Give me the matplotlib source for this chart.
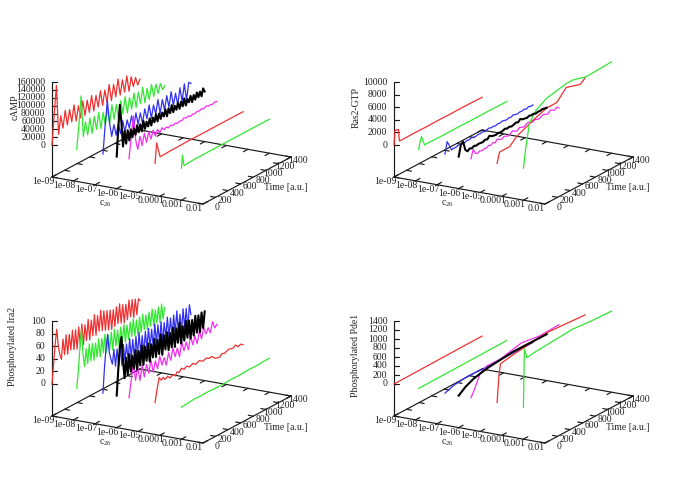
import matplotlib
matplotlib.use('Agg')
import matplotlib.pyplot as plt
import numpy as np

plt.rcParams['font.family'] = ['Liberation Serif', 'DejaVu Serif']
plt.rcParams['mathtext.default'] = 'regular'
plt.rcParams['mathtext.fontset'] = 'custom'
plt.rcParams['mathtext.rm'] = 'Liberation Serif'

# ---- axes values
c_values = [1e-9, 1.4e-8, 2.3e-7, 1e-6, 3.7e-6, 6e-5, 1e-3]
c_ticks = [1e-9, 1e-8, 1e-7, 1e-6, 1e-5, 1e-4, 1e-3, 1e-2]
c_labels = ['1e-09', '1e-08', '1e-07', '1e-06', '1e-05', '0.0001', '0.001', '0.01']
time_ticks = [0, 200, 400, 600, 800, 1000, 1200, 1400]
camp_ticks = [0, 20000, 40000, 60000, 80000, 100000, 120000, 140000, 160000]
ras_ticks = [0, 2000, 4000, 6000, 8000, 10000]
ira_ticks = [0, 20, 40, 60, 80, 100]
pde_ticks = [0, 200, 400, 600, 800, 1000, 1200, 1400]

# ---- cAMP
camp_1 = [0, 75000, 145000, 18000, 62000, 28000, 70000, 30000, 66000, 32000,
          72000, 28000, 64000, 30000, 70000, 30000, 66000, 32000, 72000, 30000,
          66000, 34000, 72000, 32000, 68000, 34000, 76000, 32000, 70000, 36000,
          78000, 34000, 70000, 36000, 74000, 32000, 66000, 38000, 58000, 36000, 48000]
camp_2 = [0, 60000, 130000, 24000, 58000, 22000, 62000, 20000, 60000, 24000,
          64000, 20000, 58000, 24000, 62000, 22000, 66000, 26000, 60000, 22000,
          64000, 28000, 68000, 24000, 60000, 28000, 66000, 26000, 62000, 30000,
          68000, 26000, 60000, 28000, 64000, 30000, 58000, 32000, 54000, 36000, 42000]
camp_3 = [0, 70000, 130000, 70000, 33000, 60000, 30000, 56000, 28000, 58000,
          26000, 54000, 30000, 58000, 26000, 60000, 28000, 54000, 24000, 58000,
          30000, 62000, 26000, 56000, 30000, 64000, 26000, 58000, 28000, 62000,
          30000, 66000, 28000, 56000, 24000, 64000, 26000, 68000, 24000, 66000, 60000]
camp_4 = [0, 70000, 127000, 80000, 17000, 54000, 20000, 52000, 24000, 50000,
          28000, 48000, 30000, 52000, 32000, 50000, 30000, 54000, 32000, 48000,
          34000, 52000, 32000, 50000, 36000, 54000, 34000, 52000, 36000, 50000,
          38000, 54000, 34000, 52000, 38000, 56000, 36000, 50000, 38000, 54000,
          36000, 52000, 38000, 56000, 36000, 50000, 40000, 54000, 36000, 52000,
          38000, 54000, 40000, 52000, 38000, 56000, 46000]
camp_5 = [0, 50000, 103000, 40000, 12000, 42000, 16000, 44000, 18000, 42000,
          20000, 40000, 22000, 36000, 24000, 34000, 26000, 30000, 25000, 29000,
          25000, 28000, 24000, 27000, 25000, 29000, 26000, 28000, 24000, 27000,
          25000, 28000, 26000, 29000, 25000, 30000, 26000, 27000, 25000, 28000, 26000]
camp_6_t = [0, 25, 80, 200, 500, 800, 1100, 1400]
camp_6 = [0, 50000, 10000, 11000, 12000, 12000, 12000, 12000]
camp_7_t = [0, 16, 40, 200, 600, 1000, 1400]
camp_7 = [0, 32000, 3000, 5000, 5000, 5000, 5000]

# ---- Ras2-GTP
ras_1_t = [0, 15, 35, 70, 85, 110, 300, 500, 700, 900, 1100, 1300, 1400]
ras_1 = [0, 2200, 2200, 2100, 200, 150, 180, 150, 170, 140, 160, 130, 120]
ras_2_t = [0, 20, 45, 70, 95, 130, 300, 500, 700, 900, 1100, 1300, 1400]
ras_2 = [0, 1000, 1800, 900, 200, 250, 200, 180, 200, 160, 180, 150, 150]
ras_3 = [0, 1800, 1000, 100, 200, 150, 300, 200, 250, 150,
         300, 200, 350, 250, 200, 300, 250, 350, 200, 300,
         400, 250, 300, 200, 350, 250, 400, 300, 200, 350,
         250, 450, 300, 250, 350, 300, 400, 250, 450, 300, 350]
ras_4 = [0, 1700, 2000, 500, 100, 350, 200, 400, 250, 350,
         300, 250, 450, 300, 700, 450, 350, 300, 400, 300,
         350, 500, 350, 450, 300, 400, 550, 400, 750, 500,
         450, 350, 500, 400, 450, 300, 400, 350, 450, 350, 300]
ras_5 = [0, 1300, 500, 300, 500, 350, 450, 400, 600, 450,
         700, 500, 900, 650, 500, 750, 600, 450, 700, 900,
         650, 500, 850, 700, 550, 800, 950, 700, 600, 800,
         650, 550, 750, 900, 700, 600, 1000, 800, 650, 900, 600]
ras_6_t = [0, 40, 200, 310, 570, 790, 950, 1100, 1320, 1400]
ras_6 = [0, 1600, 1600, 2600, 3800, 4600, 4600, 6200, 5500, 6100]
ras_7_t = [0, 40, 95, 200, 360, 680, 785, 997, 1400]
ras_7 = [0, 3200, 6600, 8100, 9100, 9800, 9800, 9200, 9400]

# ---- Phosphorylated Ira2
ira_1 = [0, 30, 60, 83, 55, 40, 31, 62, 36, 66,
         34, 64, 38, 68, 36, 66, 34, 68, 38, 70,
         36, 66, 40, 72, 38, 68, 42, 74, 40, 70,
         44, 76, 42, 72, 40, 70, 38, 68, 36, 66,
         38, 68, 40, 70, 38, 66, 36, 64, 38, 68,
         40, 66, 36, 64, 38, 62, 58]
ira_2 = [0, 25, 60, 90, 50, 28, 55, 30, 60, 32,
         58, 30, 56, 32, 60, 30, 58, 34, 62, 32,
         58, 34, 60, 30, 62, 34, 58, 32, 60, 34,
         62, 32, 58, 34, 60, 36, 62, 34, 58, 32,
         60, 34, 62, 36, 58, 34, 60, 36, 62, 34,
         58, 36, 60, 34, 62, 37, 54]
ira_3 = [0, 40, 70, 89, 60, 48, 38, 60, 32, 58,
         30, 62, 28, 60, 32, 58, 30, 64, 32, 60,
         28, 62, 30, 66, 32, 58, 30, 62, 34, 64,
         32, 60, 30, 66, 34, 62, 32, 64, 30, 60,
         34, 66, 32, 62, 30, 64, 34, 68, 32, 60,
         30, 66, 34, 64, 29, 67, 50]
ira_4 = [0, 40, 75, 89, 50, 21, 52, 24, 55, 26,
         50, 28, 56, 24, 52, 28, 58, 26, 54, 30,
         56, 26, 52, 30, 58, 28, 54, 30, 60, 26,
         56, 32, 58, 28, 54, 30, 60, 28, 56, 32,
         62, 28, 54, 30, 60, 32, 58, 28, 56, 30,
         60, 32, 58, 30, 60, 34, 59]
ira_5 = [0, 25, 52, 22, 42, 18, 40, 20, 38, 22,
         42, 20, 36, 22, 40, 24, 34, 20, 38, 24,
         42, 26, 38, 22, 44, 28, 40, 26, 46, 30,
         42, 28, 46, 32, 48, 36, 44, 34, 50, 38, 42]
ira_6_t = [0, 30, 65, 100, 130, 160, 200, 240, 283, 320, 350, 385, 420, 460, 500, 550, 600, 650, 700,
           760, 817, 860, 900, 960, 1030, 1065, 1100, 1170, 1240, 1280, 1320, 1360, 1400]
ira_6 = [0, 18, 36, 30, 33, 28, 31, 26, 29, 25, 30, 27, 32, 28, 31, 27, 30, 26, 29,
         25, 27, 24, 25, 19, 17, 21, 19, 22, 20, 23, 18, 20, 17]
ira_7_t = [0, 100, 200, 300, 400, 500, 600, 700, 800, 900, 1000, 1100, 1200, 1300, 1400]
ira_7 = [0, 1, 2, 1.5, 2, 1.5, 1, 1.5, 2, 1.5, 2, 2.5, 2, 3, 3]

# ---- Phosphorylated Pde1
pde_1_t = [0, 1400]
pde_1 = [0, 20]
pde_2_t = [0, 1400]
pde_2 = [0, 20]
pde_3_t = [0, 150, 355, 700, 1000, 1400]
pde_3 = [0, 70, 105, 85, 85, 80]
pde_4_t = [0, 110, 240, 450, 660, 870, 1100, 1400]
pde_4 = [0, 115, 200, 270, 300, 330, 325, 320]
pde_5_t = [0, 60, 140, 250, 460, 800, 1090, 1400]
pde_5 = [0, 155, 420, 520, 510, 620, 560, 580]
pde_6_t = [0, 32, 55, 260, 790, 1100, 1400]
pde_6 = [0, 600, 820, 870, 960, 930, 900]
pde_7_t = [0, 15, 55, 200, 400, 600, 785, 1000, 1200, 1400]
pde_7 = [0, 1280, 1060, 1090, 1110, 1130, 1150, 1120, 1100, 1090]

colors = ['#f03030', '#30e830', '#3030f0', '#000000', '#f030f0', '#f03030', '#30e830']
widths = [0.9, 0.9, 0.9, 1.5, 0.9, 0.9, 0.9]

# pixel size of the box drawn by the 3d view
C_STEP = (21.57, 3.86)
TIME_SPAN = (88.0, -47.0)
Z_LIFT = 32.0
Z_HEIGHT = 63.0


def project(origin, zmax, c, t, z):
    dec = np.log10(c) + 9
    x = origin[0] + dec * C_STEP[0] + np.asarray(t) / 1400 * TIME_SPAN[0]
    y = (origin[1] - Z_LIFT + dec * C_STEP[1] + np.asarray(t) / 1400 * TIME_SPAN[1]
         - np.asarray(z, dtype=float) / zmax * Z_HEIGHT)
    return x, y


def floor_point(origin, c, t):
    dec = np.log10(c) + 9
    return (origin[0] + dec * C_STEP[0] + t / 1400 * TIME_SPAN[0],
            origin[1] + dec * C_STEP[1] + t / 1400 * TIME_SPAN[1])


def draw_panel(ax, origin, series, zticks, zlabel, zlabel_pos):
    zmax = zticks[-1]
    line = dict(color='#1a1a1a', lw=0.85, solid_capstyle='round', zorder=2)
    text = dict(fontsize=7, color='#222222', zorder=5)

    corners = [floor_point(origin, 1e-9, 0), floor_point(origin, 1e-2, 0),
               floor_point(origin, 1e-2, 1400), floor_point(origin, 1e-9, 1400),
               floor_point(origin, 1e-9, 0)]
    ax.plot([p[0] for p in corners], [p[1] for p in corners], **line)

    # z axis
    top = project(origin, zmax, 1e-9, 0, zmax)
    ax.plot([origin[0], origin[0]], [origin[1], top[1]], **line)
    for z in zticks:
        x, y = project(origin, zmax, 1e-9, 0, z)
        ax.plot([x, x + 5.5], [y, y], **line)
        ax.text(x - 6.5, y, str(z), ha='right', va='center', **text)

    for c, label in zip(c_ticks, c_labels):
        p = floor_point(origin, c, 0)
        q = floor_point(origin, c, 1400)
        ax.plot([p[0], p[0] + 4.4], [p[1], p[1] - 2.4], **line)
        ax.plot([q[0], q[0] - 4.4], [q[1], q[1] + 2.4], **line)
        ax.text(p[0] - 9, p[1] + 4.5, label, ha='center', va='center', **text)

    for t in time_ticks:
        p = floor_point(origin, 1e-2, t)
        q = floor_point(origin, 1e-9, t)
        ax.plot([p[0], p[0] - 5], [p[1], p[1] - 0.9], **line)
        ax.plot([q[0], q[0] + 5], [q[1], q[1] + 0.9], **line)
        ax.text(p[0] + 16.5, p[1] + 3, str(t), ha='right', va='center', **text)

    ax.text(origin[0] + zlabel_pos[0], origin[1] + zlabel_pos[1], zlabel,
            rotation=90, ha='center', va='center', **text)
    ax.text(origin[0] + 53, origin[1] + 27, 'c$_{26}$', ha='center', va='center', **text)
    ax.text(origin[0] + 234, origin[1] + 11, 'Time [a.u.]', ha='center', va='center', **text)

    for c, (t, z), col, lw in zip(c_values, series, colors, widths):
        if t is None:
            t = np.linspace(0, 1400, len(z))
        x, y = project(origin, zmax, c, t, z)
        ax.plot(x, y, color=col, lw=lw, solid_joinstyle='round', zorder=3 if lw < 1 else 4)


fig = plt.figure(figsize=(6.85, 4.79), dpi=100)
ax = fig.add_axes([0, 0, 1, 1])
ax.set_xlim(0, 685)
ax.set_ylim(479, 0)
ax.axis('off')

draw_panel(ax, (52, 177),
           [(None, camp_1), (None, camp_2), (None, camp_3), (None, camp_4), (None, camp_5),
            (camp_6_t, camp_6), (camp_7_t, camp_7)], camp_ticks, 'cAMP', (-37, -70))
draw_panel(ax, (394, 177),
           [(ras_1_t, ras_1), (ras_2_t, ras_2), (None, ras_3), (None, ras_4), (None, ras_5),
            (ras_6_t, ras_6), (ras_7_t, ras_7)], ras_ticks, 'Ras2-GTP', (-38, -70))
draw_panel(ax, (52, 416),
           [(None, ira_1), (None, ira_2), (None, ira_3), (None, ira_4), (None, ira_5),
            (ira_6_t, ira_6), (ira_7_t, ira_7)], ira_ticks, 'Phosphorylated Ira2', (-39, -69))
draw_panel(ax, (394, 416),
           [(pde_1_t, pde_1), (pde_2_t, pde_2), (pde_3_t, pde_3), (pde_4_t, pde_4), (pde_5_t, pde_5),
            (pde_6_t, pde_6), (pde_7_t, pde_7)], pde_ticks, 'Phosphorylated Pde1', (-38, -61))

fig.savefig('out.png', dpi=100)
